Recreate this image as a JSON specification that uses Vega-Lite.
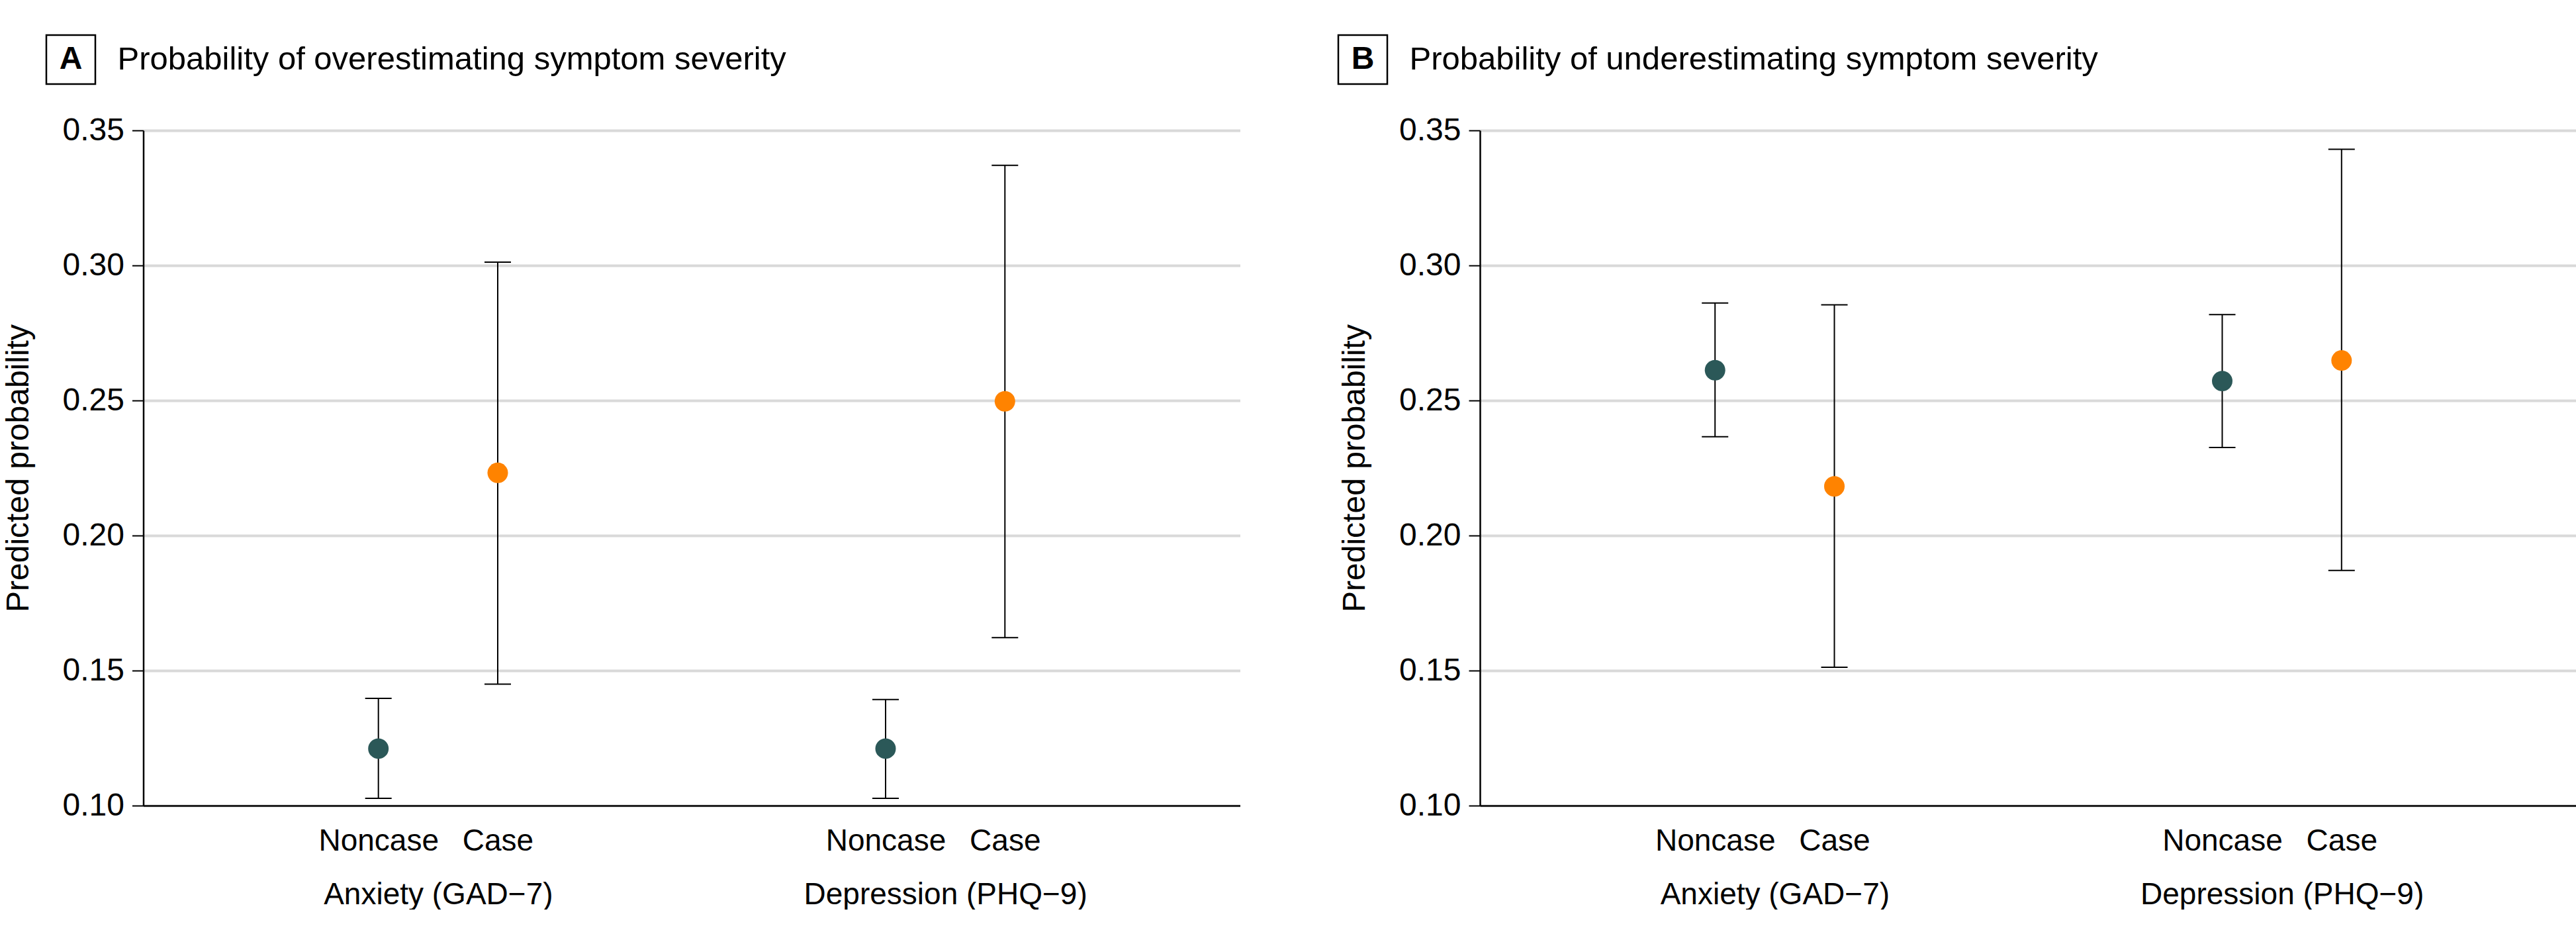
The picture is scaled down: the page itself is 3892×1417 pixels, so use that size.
{
  "$schema": "https://vega.github.io/schema/vega-lite/v6.json",
  "background": "white",
  "padding": {"left": 4, "top": 51, "right": 0, "bottom": 0},
  "config": {
    "font": "Liberation Sans",
    "view": {"stroke": null}
  },
  "datasets": {
    "ests": [
      {"panel": "A", "measure": "Anxiety (GAD−7)", "status": "Noncase", "key": "Anxiety (GAD−7)|Noncase", "est": 0.1211, "lo": 0.1027, "hi": 0.1397},
      {"panel": "A", "measure": "Anxiety (GAD−7)", "status": "Case", "key": "Anxiety (GAD−7)|Case", "est": 0.2232, "lo": 0.1450, "hi": 0.3012},
      {"panel": "A", "measure": "Depression (PHQ−9)", "status": "Noncase", "key": "Depression (PHQ−9)|Noncase", "est": 0.1211, "lo": 0.1027, "hi": 0.1393},
      {"panel": "A", "measure": "Depression (PHQ−9)", "status": "Case", "key": "Depression (PHQ−9)|Case", "est": 0.2497, "lo": 0.1622, "hi": 0.3371},
      {"panel": "B", "measure": "Anxiety (GAD−7)", "status": "Noncase", "key": "Anxiety (GAD−7)|Noncase", "est": 0.2612, "lo": 0.2366, "hi": 0.2861},
      {"panel": "B", "measure": "Anxiety (GAD−7)", "status": "Case", "key": "Anxiety (GAD−7)|Case", "est": 0.2182, "lo": 0.1512, "hi": 0.2854},
      {"panel": "B", "measure": "Depression (PHQ−9)", "status": "Noncase", "key": "Depression (PHQ−9)|Noncase", "est": 0.2572, "lo": 0.2326, "hi": 0.2818},
      {"panel": "B", "measure": "Depression (PHQ−9)", "status": "Case", "key": "Depression (PHQ−9)|Case", "est": 0.2648, "lo": 0.1871, "hi": 0.3430}
    ]
  },
  "spacing": 0,
  "hconcat": [
    {
      "spacing": 44,
      "center": true,
      "vconcat": [
        {
          "spacing": 31,
          "hconcat": [
            {
              "width": 74, "height": 74,
              "view": {"stroke": "black", "strokeWidth": 2.5},
              "data": {"values": [{"t": "A"}]},
              "mark": {"type": "text", "fontSize": 48, "fontWeight": "bold", "align": "center", "baseline": "middle", "color": "black"},
              "encoding": {"text": {"field": "t", "type": "nominal"}}
            },
            {
              "width": 1, "height": 74,
              "data": {"values": [{"t": "Probability of overestimating symptom severity"}]},
              "mark": {"type": "text", "fontSize": 49, "align": "left", "baseline": "middle", "color": "black"},
              "encoding": {"text": {"field": "t", "type": "nominal"}}
            },
            {
              "width": 801, "height": 74,
              "data": {"values": [{"t": ""}]},
              "mark": {"type": "text", "fontSize": 10},
              "encoding": {"text": {"field": "t", "type": "nominal"}}
            }
          ]
        },
        {
          "width": 1657, "height": 1020,
          "data": {"name": "ests"},
          "transform": [{"filter": "datum.panel == 'A'"}],
          "encoding": {
            "x": {
              "field": "key", "type": "nominal",
              "scale": {"type": "point", "padding": 0.88, "domain": ["l1", "l2", "l3", "l4", "l5", "l6", "l7", "Anxiety (GAD−7)|Noncase", "a1", "Anxiety (GAD−7)|", "a2", "Anxiety (GAD−7)|Case", "m1", "m2", "m3", "m4", "m5", "m6", "m7", "m8", "m9", "m10", "m11", "m12", "Depression (PHQ−9)|Noncase", "d1", "Depression (PHQ−9)|", "d2", "Depression (PHQ−9)|Case", "r1", "r2", "r3", "r4", "r5", "r6", "r7"]},
              "axis": {"title": null, "ticks": false, "tickSize": 0, "grid": false, "domainColor": "black", "domainWidth": 2.5, "labelAngle": 0, "labelFontSize": 46, "labelColor": "black", "labelPadding": 31, "labelLineHeight": 81, "labelBaseline": "top", "labelOverlap": false, "labelBound": false, "labelFlush": false, "labelLimit": 0,
                "labelExpr": "indexof(datum.value,'|') < 0 ? '' : (split(datum.value,'|')[1] == '' ? ['', split(datum.value,'|')[0]] : split(datum.value,'|')[1])"}
            }
          },
          "layer": [
            {
              "mark": {"type": "rule", "color": "black", "strokeWidth": 2},
              "encoding": {
                "y": {"field": "lo", "type": "quantitative", "title": "Predicted probability",
                  "scale": {"domain": [0.1, 0.35], "nice": false, "zero": false},
                  "axis": {"values": [0.1, 0.15, 0.2, 0.25, 0.3, 0.35], "format": ".2f", "grid": true, "gridColor": "#d9d9d9", "gridWidth": 4, "domainColor": "black", "domainWidth": 2.5, "tickColor": "black", "tickSize": 17, "tickWidth": 2, "labelFontSize": 48, "labelColor": "black", "labelPadding": 12, "titleFontSize": 48, "titleFontWeight": "normal", "titleColor": "black", "titlePadding": 42}},
                "y2": {"field": "hi"}
              }
            },
            {
              "mark": {"type": "tick", "color": "black", "thickness": 2, "size": 40, "opacity": 1},
              "encoding": {"y": {"field": "lo", "type": "quantitative", "title": "Predicted probability"}}
            },
            {
              "mark": {"type": "tick", "color": "black", "thickness": 2, "size": 40, "opacity": 1},
              "encoding": {"y": {"field": "hi", "type": "quantitative", "title": "Predicted probability"}}
            },
            {
              "mark": {"type": "point", "filled": true, "size": 960, "opacity": 1},
              "encoding": {
                "y": {"field": "est", "type": "quantitative", "title": "Predicted probability"},
                "color": {"field": "status", "type": "nominal", "scale": {"domain": ["Noncase", "Case"], "range": ["#2b5858", "#ff8300"]}, "legend": null}
              }
            }
          ]
        }
      ]
    },
    {
      "spacing": 44,
      "center": true,
      "vconcat": [
        {
          "spacing": 31,
          "hconcat": [
            {
              "width": 74, "height": 74,
              "view": {"stroke": "black", "strokeWidth": 2.5},
              "data": {"values": [{"t": "B"}]},
              "mark": {"type": "text", "fontSize": 48, "fontWeight": "bold", "align": "center", "baseline": "middle", "color": "black"},
              "encoding": {"text": {"field": "t", "type": "nominal"}}
            },
            {
              "width": 1, "height": 74,
              "data": {"values": [{"t": "Probability of underestimating symptom severity"}]},
              "mark": {"type": "text", "fontSize": 49, "align": "left", "baseline": "middle", "color": "black"},
              "encoding": {"text": {"field": "t", "type": "nominal"}}
            },
            {
              "width": 906, "height": 74,
              "data": {"values": [{"t": ""}]},
              "mark": {"type": "text", "fontSize": 10},
              "encoding": {"text": {"field": "t", "type": "nominal"}}
            }
          ]
        },
        {
          "width": 1657, "height": 1020,
          "data": {"name": "ests"},
          "transform": [{"filter": "datum.panel == 'B'"}],
          "encoding": {
            "x": {
              "field": "key", "type": "nominal",
              "scale": {"type": "point", "padding": 0.88, "domain": ["l1", "l2", "l3", "l4", "l5", "l6", "l7", "Anxiety (GAD−7)|Noncase", "a1", "Anxiety (GAD−7)|", "a2", "Anxiety (GAD−7)|Case", "m1", "m2", "m3", "m4", "m5", "m6", "m7", "m8", "m9", "m10", "m11", "m12", "Depression (PHQ−9)|Noncase", "d1", "Depression (PHQ−9)|", "d2", "Depression (PHQ−9)|Case", "r1", "r2", "r3", "r4", "r5", "r6", "r7"]},
              "axis": {"title": null, "ticks": false, "tickSize": 0, "grid": false, "domainColor": "black", "domainWidth": 2.5, "labelAngle": 0, "labelFontSize": 46, "labelColor": "black", "labelPadding": 31, "labelLineHeight": 81, "labelBaseline": "top", "labelOverlap": false, "labelBound": false, "labelFlush": false, "labelLimit": 0,
                "labelExpr": "indexof(datum.value,'|') < 0 ? '' : (split(datum.value,'|')[1] == '' ? ['', split(datum.value,'|')[0]] : split(datum.value,'|')[1])"}
            }
          },
          "layer": [
            {
              "mark": {"type": "rule", "color": "black", "strokeWidth": 2},
              "encoding": {
                "y": {"field": "lo", "type": "quantitative", "title": "Predicted probability",
                  "scale": {"domain": [0.1, 0.35], "nice": false, "zero": false},
                  "axis": {"values": [0.1, 0.15, 0.2, 0.25, 0.3, 0.35], "format": ".2f", "grid": true, "gridColor": "#d9d9d9", "gridWidth": 4, "domainColor": "black", "domainWidth": 2.5, "tickColor": "black", "tickSize": 17, "tickWidth": 2, "labelFontSize": 48, "labelColor": "black", "labelPadding": 12, "titleFontSize": 48, "titleFontWeight": "normal", "titleColor": "black", "titlePadding": 42}},
                "y2": {"field": "hi"}
              }
            },
            {
              "mark": {"type": "tick", "color": "black", "thickness": 2, "size": 40, "opacity": 1},
              "encoding": {"y": {"field": "lo", "type": "quantitative", "title": "Predicted probability"}}
            },
            {
              "mark": {"type": "tick", "color": "black", "thickness": 2, "size": 40, "opacity": 1},
              "encoding": {"y": {"field": "hi", "type": "quantitative", "title": "Predicted probability"}}
            },
            {
              "mark": {"type": "point", "filled": true, "size": 960, "opacity": 1},
              "encoding": {
                "y": {"field": "est", "type": "quantitative", "title": "Predicted probability"},
                "color": {"field": "status", "type": "nominal", "scale": {"domain": ["Noncase", "Case"], "range": ["#2b5858", "#ff8300"]}, "legend": null}
              }
            }
          ]
        }
      ]
    }
  ]
}
